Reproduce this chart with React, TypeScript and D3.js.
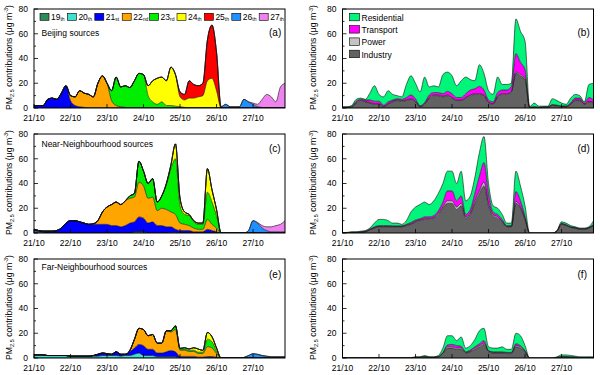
import React from "react";
import * as d3 from "d3";

const N = 56; // 3-hourly from 21/10 00:00 to 27/10 21:00
const HOURS = d3.range(N).map((i) => i * 3);

function series(...segs: [number, number[]][]): number[] {
  const out: number[] = new Array(N).fill(0);
  segs.forEach(([start, vals]) => vals.forEach((v, k) => { out[start + k] = v; }));
  return out;
}

const DAY_KEYS = ["19", "20", "21", "22", "23", "24", "25", "26", "27"];
const DAY_SUFFIX = ["th", "th", "st", "nd", "rd", "th", "th", "th", "th"];
const DAY_COLORS = ["#2e8b57", "#40e0d0", "#0000ff", "#ffa500", "#00ee00", "#ffff00", "#ff0000", "#1e90ff", "#ee82ee"];

const SECTOR_KEYS = ["Industry", "Power", "Transport", "Residential"];
const SECTOR_COLORS = ["#626262", "#c4c4c4", "#ff00ff", "#00f57a"];

const DAY_LABELS = ["21/10", "22/10", "23/10", "24/10", "25/10", "26/10", "27/10"];
const Y_TICKS = [0, 20, 40, 60, 80];
const Y_MINOR = [10, 30, 50, 70];

// (a) Beijing sources, by emission day
const A19 = series();
const A20 = series();
const A21 = series([0, [2, 2, 2, 7, 8, 7, 12, 18, 6, 2, 1, 0.5]]);
const A22 = series([8, [4, 7, 13, 11.5, 11, 9, 20, 26, 20, 6, 2, 1, 0.5]]);
const A23 = series([17, [8, 23, 16, 17.5, 16.5, 22, 28, 27, 10, 5, 3, 5, 2, 2, 1.5, 1, 0.5]]);
const A24 = series([25, [8, 17, 21, 20, 20, 31, 25.5, 8, 6, 8, 8, 9, 10, 22, 24, 14]]);
const A25 = series([32, [4, 4.5, 14, 11, 9, 10, 33, 43, 31, 0.5]]);
const A26 = series([41, [0.5, 3, 1, 1, 1, 7, 5, 3, 1, 0.5]]);
const A27 = series([48, [1, 2, 6.5, 11, 9, 5, 17, 20]]);

// (b) Beijing sources, by sector
const B_IND = [0.3, 0.3, 0.5, 4, 5.5, 5, 4, 3, 3, 1, 3, 5, 6, 5.5, 6, 7, 5, 1, 3, 8, 10, 10, 9, 10, 8, 6, 6, 8, 10, 11, 11, 10, 4, 3, 9, 11, 11, 13, 28, 26, 23, 0.3, 0.5, 0.3, 0.5, 0.5, 2, 1.5, 1, 1, 3, 6, 6, 3, 5, 4];
const B_POW = [0.2, 0.2, 0.3, 0.5, 0.5, 0.5, 0.5, 0.5, 0.5, 0.3, 0.5, 0.5, 0.5, 0.5, 0.5, 0.5, 0.5, 0.3, 0.5, 0.5, 0.5, 0.5, 0.5, 0.5, 0.5, 0.5, 0.5, 0.5, 0.5, 0.5, 0.5, 0.5, 0.5, 0.5, 0.5, 0.5, 0.5, 0.5, 1, 1, 1, 0.1, 0.2, 0.1, 0.2, 0.2, 0.3, 0.3, 0.2, 0.2, 0.3, 0.5, 0.5, 0.3, 0.5, 0.5];
const B_TRA = [0.2, 0.2, 0.4, 1, 1, 1, 2, 2, 2, 1, 1.5, 1, 1, 1, 2, 3, 2, 0.5, 1, 2, 2, 2, 2, 3, 3, 2, 2, 3, 4, 4, 6, 4, 2, 1.5, 3, 3, 3, 4, 15, 10, 7, 0.2, 0.3, 0.2, 0.3, 0.3, 0.5, 0.5, 0.5, 0.5, 1, 1.5, 1.5, 1, 3, 2];
const B_RES = [0.3, 0.3, 0.8, 1.5, 1, 0.5, 5.5, 12.5, 5.5, 6.7, 9, 4.5, 2.5, 2, 10.5, 15.5, 12.5, 11.2, 20.5, 6.5, 5.5, 4.5, 15.5, 15.5, 14.5, 9.5, 13.5, 13.5, 8.5, 6.5, 17.5, 13.5, 7.5, 6, 12.5, 4.5, 4.5, 2.5, 28, 25, 23, 0.4, 3, 0.9, 0.5, 0.5, 4.7, 3.7, 2.3, 1.3, 3.7, 3, 2, 0.7, 10.5, 13.5];

// (c) Near-Neighbourhood sources, by emission day
const C19 = series([0, [1, 0.5]], [22, [1, 1, 1]]);
const C20 = series([0, [1, 0.5, 0.5]], [30, [0.5, 0.5]]);
const C21 = series([0, [1, 1, 1, 1.5, 1.5, 2, 4, 8, 10, 10, 9, 8, 7, 7, 7, 7, 7, 6, 6, 5, 6, 8, 8, 12, 11, 8, 9, 6, 6, 5, 4.5, 2.5, 2, 2, 2, 1, 1, 1, 3, 2, 1]]);
const C22 = series([13, [0.5, 3, 10, 14, 17, 19, 18, 20, 20, 20, 28, 26, 20, 20, 12, 14, 14, 12, 12, 6, 5, 4, 3, 2, 2, 8, 5, 3]]);
const C23 = series([21, [2, 3, 17, 12, 12, 15, 7, 10, 20, 35, 45, 14, 8, 8, 5, 4, 4, 22, 18, 10]]);
const C24 = series([29, [1, 3, 12, 6, 2, 1, 1, 1, 1, 19, 10, 5]]);
const C25 = series();
const C26 = series([47, [2, 10, 8, 4, 2, 1, 1, 1, 1]]);
const C27 = series([49, [0.5, 2, 3, 4, 5, 6, 9]]);

// (d) Near-Neighbourhood sources, by sector
const D_IND = [0.1, 0.2, 0.4, 0.4, 0.6, 1, 2.5, 4, 5, 5, 5, 5, 5, 5, 6, 7, 9, 10, 11, 11, 12, 15, 20, 24, 24, 19, 22, 12, 15, 24, 32, 38, 22, 14, 12, 9, 5, 5, 24, 20, 11, 0, 0, 0, 0, 0, 0, 1.5, 7, 6, 4.5, 4, 3, 3, 4, 6];
const D_POW = [0.05, 0.05, 0.1, 0.1, 0.1, 0.1, 0.2, 0.3, 0.3, 0.3, 0.3, 0.3, 0.3, 0.3, 0.4, 0.5, 0.5, 0.5, 0.5, 0.5, 0.5, 1, 1, 2, 2, 2, 2, 1, 1, 2, 2, 3, 2, 1, 1, 0.5, 0.3, 0.3, 1.5, 1, 0.5, 0, 0, 0, 0, 0, 0, 0.1, 0.3, 0.3, 0.2, 0.2, 0.2, 0.2, 0.2, 0.3];
const D_TRA = [0.05, 0.05, 0.1, 0.1, 0.2, 0.3, 0.5, 0.7, 0.7, 0.7, 0.7, 0.5, 0.5, 0.5, 0.6, 1, 1, 1, 1.5, 1.5, 1.5, 2, 4, 8, 8, 5, 6, 2, 3, 6, 12, 16, 8, 2, 2, 1.5, 0.7, 0.7, 8, 5, 2, 0, 0, 0, 0, 0, 0, 0.1, 0.5, 0.5, 0.3, 0.3, 0.3, 0.3, 0.3, 0.5];
const D_RES = [0.1, 0.2, 0.4, 0.4, 0.6, 0.6, 0.8, 3, 5, 5, 4, 2.2, 2.2, 1.2, 3, 8.5, 10.5, 11.5, 12, 10, 12, 14, 15, 16, 16, 14, 20, 11, 11, 13, 19, 21, 8, 5, 5, 4, 2, 2, 16.5, 12, 8.5, 0, 0, 0, 0, 0, 0, 0.3, 1.2, 1.2, 1, 0.5, 0.5, 0.5, 0.5, 3.2];

// (e) Far-Neighbourhood sources, by emission day
const E19 = series();
const E20 = series([0, [2.5, 2.5, 2.5, 2, 2, 2, 2, 2, 1.5, 1.5, 1.5, 1.5, 1.5, 1.5, 1.5, 2, 2, 2, 2, 1.5, 2, 2, 3, 4, 2, 2, 2, 1, 1, 1, 1, 1, 0.3, 0.3, 0.3, 0.3, 0.2, 0.2, 0.2, 0.2, 0.1]]);
const E21 = series([13, [0.5, 1.5, 2, 1.5, 1, 3, 1.5, 1, 3, 5, 7, 8, 5, 5, 3, 3, 4, 5, 4, 1, 1, 1, 1, 0.5, 0.5, 1, 1, 0.5]]);
const E22 = series([21, [1, 7, 13, 13, 11, 12, 8, 8, 17, 15, 18, 5, 5, 4, 4, 3, 3, 8, 7, 3]]);
const E23 = series([30, [1, 3, 1, 1, 1, 1, 1, 1, 6, 5, 2]]);
const E24 = series([32, [0.5, 1, 1, 2, 2.5, 1.5, 5.5, 4, 2.5]]);
const E25 = series();
const E26 = series([46, [0.5, 2, 3.5, 3, 2, 1.5, 1, 1, 1, 1]]);
const E27 = series();

// (f) Far-Neighbourhood sources, by sector
const F_IND = [0.1, 0.1, 0.1, 0.1, 0.1, 0.1, 0.1, 0.1, 0.1, 0.1, 0.1, 0.1, 0.1, 0.1, 0.1, 0.1, 0.4, 0.4, 0.8, 0.4, 0.4, 0.8, 3.5, 8, 8, 7, 7, 4, 5, 7, 9, 11, 5, 4, 4, 4, 3.5, 3.5, 9, 8, 5, 0, 0, 0, 0, 0, 0, 0.3, 0.8, 0.8, 0.6, 0.5, 0.3, 0.3, 0.3, 0.3];
const F_POW = [0.05, 0.05, 0.05, 0.05, 0.05, 0.05, 0.05, 0.05, 0.05, 0.05, 0.05, 0.05, 0.05, 0.05, 0.05, 0.05, 0.1, 0.1, 0.2, 0.1, 0.1, 0.2, 0.5, 1, 1, 1, 1, 0.5, 0.5, 1, 1, 1, 0.5, 0.5, 0.5, 0.5, 0.5, 0.5, 1, 1, 0.5, 0, 0, 0, 0, 0, 0, 0.05, 0.1, 0.1, 0.1, 0.1, 0.05, 0.05, 0.05, 0.05];
const F_TRA = [0.05, 0.05, 0.05, 0.05, 0.05, 0.05, 0.05, 0.05, 0.05, 0.05, 0.05, 0.05, 0.05, 0.05, 0.05, 0.05, 0.1, 0.1, 0.2, 0.1, 0.1, 0.2, 0.5, 1.5, 2, 2, 1.5, 0.5, 1, 1, 1.5, 2, 0.5, 0.5, 0.5, 0.5, 0.5, 0.5, 1.5, 1, 0.5, 0, 0, 0, 0, 0, 0, 0.05, 0.1, 0.1, 0.1, 0.1, 0.05, 0.05, 0.05, 0.05];
const F_RES = [0.1, 0.1, 0.1, 0.1, 0.1, 0.1, 0.1, 0.1, 0.1, 0.1, 0.1, 0.1, 0.1, 0.1, 0.1, 0.1, 0.4, 0.4, 0.8, 0.4, 0.4, 0.8, 3.5, 7.5, 7, 4, 7.5, 3, 3.5, 6, 10.5, 10, 3, 3, 3, 4, 2.5, 2.5, 8.5, 8, 4, 0, 0, 0, 0, 0, 0, 0.6, 1.5, 1.5, 1.2, 0.8, 0.6, 0.6, 0.6, 0.6];

const FONT = "'Liberation Sans', Arial, Helvetica, sans-serif";
const COL_X = [34, 342.5];
const ROW_Y = [9, 134, 259];
const PW = 251;
const PH = 99;

type PanelSpec = {
  id: string;
  col: number;
  row: number;
  layers: number[][];
  colors: string[];
  title?: string;
  titleDy?: number;
  tagDy: number;
};

const PANELS: PanelSpec[] = [
  { id: "a", col: 0, row: 0, layers: [A19, A20, A21, A22, A23, A24, A25, A26, A27], colors: DAY_COLORS, title: "Beijing sources", titleDy: 26.5, tagDy: 26.5 },
  { id: "b", col: 1, row: 0, layers: [B_IND, B_POW, B_TRA, B_RES], colors: SECTOR_COLORS, tagDy: 26.5 },
  { id: "c", col: 0, row: 1, layers: [C19, C20, C21, C22, C23, C24, C25, C26, C27], colors: DAY_COLORS, title: "Near-Neighbourhood sources", titleDy: 12.5, tagDy: 17.5 },
  { id: "d", col: 1, row: 1, layers: [D_IND, D_POW, D_TRA, D_RES], colors: SECTOR_COLORS, tagDy: 17.5 },
  { id: "e", col: 0, row: 2, layers: [E19, E20, E21, E22, E23, E24, E25, E26, E27], colors: DAY_COLORS, title: "Far-Neighbourhood sources", titleDy: 10.5, tagDy: 18.5 },
  { id: "f", col: 1, row: 2, layers: [F_IND, F_POW, F_TRA, F_RES], colors: SECTOR_COLORS, tagDy: 18.5 },
];

function Panel({ p }: { p: PanelSpec }) {
  const x0 = COL_X[p.col];
  const y0 = ROW_Y[p.row];
  const x = d3.scaleLinear().domain([0, 165]).range([x0, x0 + PW]);
  const y = d3.scaleLinear().domain([0, 80]).range([y0 + PH, y0]);
  const keys = p.layers.map((_, k) => "k" + k);
  const table = HOURS.map((h, i) => {
    const row: Record<string, number> = { h };
    p.layers.forEach((arr, k) => { row["k" + k] = arr[i]; });
    return row;
  });
  const stacked = d3.stack<Record<string, number>>().keys(keys)(table);
  const area = d3.area<d3.SeriesPoint<Record<string, number>>>()
    .curve(d3.curveMonotoneX)
    .x((d) => x(d.data.h)).y0((d) => y(d[0])).y1((d) => y(d[1]));
  const line = d3.line<d3.SeriesPoint<Record<string, number>>>()
    .curve(d3.curveMonotoneX)
    .x((d) => x(d.data.h)).y((d) => y(d[1]));
  const clipId = "clip-" + p.id;
  const bx = p.col === 0 ? 11.5 : 316;
  const cy = y0 + PH / 2 - 1;
  return (
    <g>
      <defs>
        <clipPath id={clipId}>
          <rect x={x0} y={y0} width={PW} height={PH} />
        </clipPath>
      </defs>
      <g clipPath={`url(#${clipId})`}>
        {stacked.map((s, k) => (
          <path key={"a" + k} d={area(s) || ""} fill={p.colors[k]} stroke="none" />
        ))}
        {stacked.map((s, k) => (
          <path key={"l" + k} d={line(s) || ""} fill="none" stroke="#111" strokeWidth={0.6} />
        ))}
      </g>
      <rect x={x0} y={y0} width={PW} height={PH} fill="none" stroke="#000" strokeWidth={1} />
      {Y_TICKS.map((t) => (
        <g key={"yt" + t}>
          <line x1={x0} x2={x0 + 4} y1={y(t)} y2={y(t)} stroke="#000" strokeWidth={0.8} />
          <text x={x0 - 6} y={y(t)} dy="0.35em" textAnchor="end" fontSize={8.5} fontFamily={FONT}>{t}</text>
        </g>
      ))}
      {Y_MINOR.map((t) => (
        <line key={"ym" + t} x1={x0} x2={x0 + 2} y1={y(t)} y2={y(t)} stroke="#000" strokeWidth={0.8} />
      ))}
      {DAY_LABELS.map((lab, k) => (
        <g key={"xt" + k}>
          <line x1={x(k * 24)} x2={x(k * 24)} y1={y0 + PH} y2={y0 + PH - 4} stroke="#000" strokeWidth={0.8} />
          <text x={x(k * 24)} y={y0 + PH + 13} textAnchor="middle" fontSize={8.5} fontFamily={FONT}>{lab}</text>
        </g>
      ))}
      <text transform={`translate(${bx},${cy}) rotate(-90)`} textAnchor="middle" fontSize={8.7} fontFamily={FONT}>
        PM<tspan fontSize={5.5} dy={2}>2.5</tspan>
        <tspan dy={-2}> contributions (μg m</tspan>
        <tspan fontSize={5.5} dy={-3.5}>-3</tspan>
        <tspan dy={3.5}>)</tspan>
      </text>
      {p.title && (
        <text x={x0 + 7.5} y={y0 + (p.titleDy || 0)} fontSize={8.5} fontFamily={FONT}>{p.title}</text>
      )}
      <text x={x0 + PW - 16} y={y0 + p.tagDy} fontSize={10} fontFamily={FONT}>({p.id})</text>
    </g>
  );
}

function DayLegend() {
  const x0 = COL_X[0] + 6;
  const y0 = ROW_Y[0] + 4.3;
  return (
    <g>
      {DAY_KEYS.map((k, i) => (
        <g key={k}>
          <rect x={x0 + i * 27.4} y={y0} width={9} height={7} fill={DAY_COLORS[i]} stroke="#000" strokeWidth={0.6} />
          <text x={x0 + i * 27.4 + 11} y={y0 + 7} fontSize={8.5} fontFamily={FONT}>
            {k}<tspan fontSize={5} dy={1}>{DAY_SUFFIX[i]}</tspan>
          </text>
        </g>
      ))}
    </g>
  );
}

function SectorLegend() {
  const x0 = COL_X[1] + 7;
  const y0 = ROW_Y[0] + 4.3;
  const order = [3, 2, 1, 0];
  return (
    <g>
      {order.map((k, i) => (
        <g key={k}>
          <rect x={x0} y={y0 + i * 12.3} width={10} height={7.5} fill={SECTOR_COLORS[k]} stroke="#000" strokeWidth={0.6} />
          <text x={x0 + 12} y={y0 + i * 12.3 + 7.3} fontSize={8.5} fontFamily={FONT}>{SECTOR_KEYS[k]}</text>
        </g>
      ))}
    </g>
  );
}

export default function App() {
  return (
    <svg width={600} height={375} viewBox="0 0 600 375" style={{ position: "absolute", left: 0, top: 0, background: "#fff" }}>
      <rect x={0} y={0} width={600} height={375} fill="#fff" />
      {PANELS.map((p) => <Panel key={p.id} p={p} />)}
      <DayLegend />
      <SectorLegend />
    </svg>
  );
}
